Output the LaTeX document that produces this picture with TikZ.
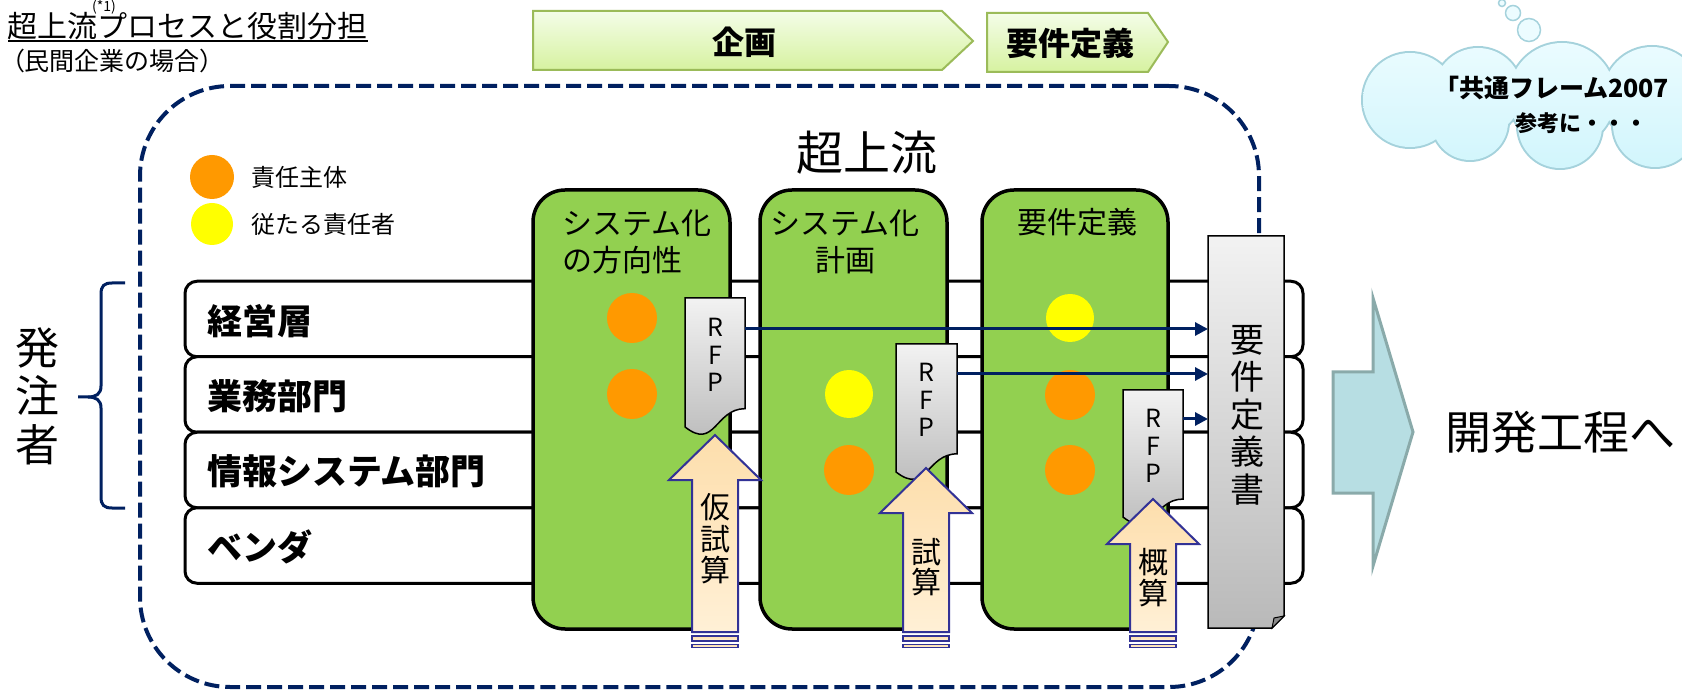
\documentclass[tikz,border=0pt]{standalone}
\usepackage{fontspec}
\setmainfont{Noto Sans CJK JP}
\usetikzlibrary{arrows.meta}
\definecolor{navy}{RGB}{0,32,96}
\definecolor{colgreen}{RGB}{146,208,80}
\definecolor{dotorange}{RGB}{255,153,0}
\definecolor{dotyellow}{RGB}{255,255,0}
\definecolor{peach}{RGB}{253,222,172}
\definecolor{peachlight}{RGB}{255,240,214}
\definecolor{arrblue}{RGB}{50,50,150}
\definecolor{bigfill}{RGB}{183,222,227}
\definecolor{bigline}{RGB}{138,170,170}
\definecolor{phaseline}{RGB}{155,187,89}
\definecolor{phasetop}{RGB}{244,253,232}
\definecolor{phasebot}{RGB}{214,242,160}
\definecolor{cloudtop}{RGB}{236,252,255}
\definecolor{cloudbot}{RGB}{208,245,252}
\definecolor{cloudline}{RGB}{165,210,220}
\definecolor{doctop}{RGB}{242,242,242}
\definecolor{docbot}{RGB}{185,185,185}
\newcommand\setfs[2]{\fontsize{#1pt}{#2pt}\selectfont}
\newcommand\uparr[3]{%
  \path[uparrow] (#1,#2) -- (#1+46,#3) -- (#1+23,#3) -- (#1+23,632) -- (#1-23,632) -- (#1-23,#3) -- (#1-46,#3) -- cycle;
  \path[uparrow] (#1-23,636) rectangle (#1+23,641);
  \path[uparrow, line width=1.5pt] (#1-23,644.5) rectangle (#1+23,647.5);}
\newcommand\rfpdoc[4]{%
  \path[docshape] (#1,#2) -- (#1+#3,#2) -- (#1+#3,#2+0.802*#4) .. controls (#1+0.5*#3,#2+0.802*#4) and (#1+0.5*#3,#2+1.107*#4) .. (#1,#2+0.934*#4) -- cycle;}
\newcommand\cloudlobes{(1410,100) circle (47pt) (1478,92) circle (44pt) (1470,122) circle (38pt) (1562,96) circle (53pt) (1560,126) circle (42pt) (1652,96) circle (49pt) (1655,125) circle (42pt)}
\tikzset{
  txt/.style={inner sep=0pt, outer sep=0pt},
  rowbox/.style={draw=black, line width=3pt, fill=white, rounded corners=12pt, minimum width=1118pt, minimum height=75.5pt, inner sep=0pt},
  colbox/.style={draw=black, line width=3.5pt, fill=colgreen, rounded corners=32pt, minimum height=439pt, inner sep=0pt},
  dot/.style={circle, inner sep=0pt, minimum size=50pt},
  docshape/.style={draw=black, line width=1.5pt, top color=doctop, bottom color=docbot},
  uparrow/.style={draw=arrblue, line width=2pt, top color=peach, bottom color=peachlight},
  flow/.style={draw=navy, line width=3pt, -{Triangle[length=13pt,width=13pt]}},
  phase/.style={draw=phaseline, line width=2pt, top color=phasetop, bottom color=phasebot},
  rowlabel/.style={txt, anchor=west, font=\bfseries\setfs{35}{40}},
  coltitle/.style={txt, font=\setfs{30}{37}},
  vstack/.style={txt, align=center},
  rfptext/.style={vstack, font=\setfs{25}{27.5}},
  bubble/.style={circle, draw=cloudline, line width=1.5pt, fill=cloudtop, inner sep=0pt}
}
\begin{document}
\begin{tikzpicture}[x=1pt,y=-1pt]
\useasboundingbox (0,0) rectangle (1682,692);
% title
\node[txt, anchor=west, font=\setfs{30}{36}] (title) at (8,26) {超上流プロセスと役割分担};
\coordinate (ul) at (0,41);
\draw[line width=2pt] (title.west |- ul) -- (title.east |- ul);
\node[txt, font=\setfs{14}{16}] (note) at (104,7) {(*1)};
\node[txt, anchor=west, font=\setfs{25}{30}] (sub) at (0,61) {（民間企業の場合）};
% phase arrows
\path[phase] (533,11) -- (942,11) -- (973,41) -- (942,70) -- (533,70) -- cycle;
\node[txt, font=\bfseries\setfs{32}{36}] (plan) at (744,42) {企画};
\path[phase] (987,13) -- (1148,13) -- (1168,42) -- (1148,72) -- (987,72) -- cycle;
\node[txt, font=\bfseries\setfs{32}{36}] (reqphase) at (1070,43) {要件定義};
% cloud
\draw[cloudline, line width=4pt] \cloudlobes;
\begin{scope}
  \clip \cloudlobes;
  \shade[top color=cloudtop, bottom color=cloudbot] (1355,35) rectangle (1710,175);
\end{scope}
\node[bubble, minimum size=23pt] (b3) at (1529,30) {};
\node[bubble, minimum size=15pt] (b2) at (1513,13) {};
\node[bubble, minimum size=7pt] (b1) at (1502,3) {};
\node[txt, anchor=west, font=\bfseries\setfs{25}{30}] (cl1) at (1434,88) {「共通フレーム2007};
\node[txt, font=\bfseries\setfs{22}{26}] (cl2) at (1581,123) {参考に・・・};
% dashed frame
\node[draw=navy, line width=4pt, dash pattern=on 15pt off 6pt, rounded corners=90pt, minimum width=1119pt, minimum height=601pt, inner sep=0pt] (frame) at (699.5,386.5) {};
\node[txt, font=\setfs{47}{52}] (super) at (867,153) {超上流};
% legend
\node[dot, fill=dotorange, minimum size=44pt] (lg1) at (212,177) {};
\node[dot, fill=dotyellow, minimum size=42pt] (lg2) at (212,224) {};
\node[txt, anchor=west, font=\setfs{24}{28}] (lgt1) at (251,177) {責任主体};
\node[txt, anchor=west, font=\setfs{24}{28}] (lgt2) at (251,224) {従たる責任者};
% rows
\node[rowbox] (r1) at (744,319) {};
\node[rowbox] (r2) at (744,394.5) {};
\node[rowbox] (r3) at (744,470) {};
\node[rowbox] (r4) at (744,545.5) {};
\node[rowlabel] (l1) at (207,321) {経営層};
\node[rowlabel] (l2) at (207,396) {業務部門};
\node[rowlabel] (l3) at (207,471) {情報システム部門};
\node[rowlabel] (l4) at (207,547) {ベンダ};
% brace and orderer
\draw[navy, line width=3pt] (125,283) -- (112,283) .. controls (104,283) and (101,286) .. (101,294) -- (101,386) .. controls (101,394) and (96,397) .. (88,397) -- (78,397);
\draw[navy, line width=3pt] (88,397) .. controls (96,397) and (101,400) .. (101,408) -- (101,497) .. controls (101,505) and (104,508) .. (112,508) -- (125,508);
\node[vstack, font=\setfs{44}{48.5}] (orderer) at (37,396) {発\\注\\者};
% columns
\node[colbox, minimum width=197pt] (c1) at (631.5,409.5) {};
\node[colbox, minimum width=187pt] (c2) at (853.5,409.5) {};
\node[colbox, minimum width=186pt] (c3) at (1075,409.5) {};
\node[coltitle, align=left] (t1) at (637,241.5) {システム化\\の方向性};
\node[coltitle, align=center] (t2) at (845,241.5) {システム化\\計画};
\node[coltitle] (t3) at (1077,222) {要件定義};
% dots
\node[dot, fill=dotorange] (d11) at (632,318) {};
\node[dot, fill=dotorange] (d12) at (632,394) {};
\node[dot, fill=dotyellow, minimum size=48pt] (d22) at (849,394) {};
\node[dot, fill=dotorange] (d23) at (849,470) {};
\node[dot, fill=dotyellow, minimum size=48pt] (d31) at (1070,318) {};
\node[dot, fill=dotorange] (d32) at (1070,395) {};
\node[dot, fill=dotorange] (d33) at (1070,470) {};
% RFP documents
\rfpdoc{685}{298}{60}{138}
\node[rfptext] (rfp1) at (715,355) {R\\F\\P};
\rfpdoc{896}{344}{61}{137}
\node[rfptext] (rfp2) at (926,400) {R\\F\\P};
\rfpdoc{1123}{390}{60}{136}
\node[rfptext] (rfp3) at (1153,446) {R\\F\\P};
\coordinate (o1) at (745,329);
\coordinate (o2) at (957,374);
\coordinate (o3) at (1183,419);
% requirements document
\path[docshape] (1208,236) -- (1284,236) -- (1284,616) -- (1272,628) -- (1208,628) -- cycle;
\path[draw=black, line width=1pt, fill=docbot!75!black] (1272,628) -- (1274,618) -- (1284,616) -- cycle;
\node[txt, minimum width=76pt, minimum height=392pt] (reqdoc) at (1246,432) {};
\node[vstack, font=\setfs{34}{37.5}] (reqtext) at (1247,415) {要\\件\\定\\義\\書};
\draw[flow] (o1) -- (o1 -| reqdoc.west);
\draw[flow] (o2) -- (o2 -| reqdoc.west);
\draw[flow] (o3) -- (o3 -| reqdoc.west);
% estimate arrows
\uparr{715}{435}{480}
\node[vstack, font=\setfs{30}{31.5}] (est1) at (715,539) {仮\\試\\算};
\uparr{926}{468}{513}
\node[vstack, font=\setfs{30}{30}] (est2) at (926,567) {試\\算};
\uparr{1153}{499}{544}
\node[vstack, font=\setfs{30}{31}] (est3) at (1153,577.5) {概\\算};
% to development
\path[draw=bigline, line width=3pt, fill=bigfill] (1333,372) -- (1373,372) -- (1373,298) -- (1413,432) -- (1373,566) -- (1373,493) -- (1333,493) -- cycle;
\node[txt, anchor=west, font=\setfs{46}{50}] (dev) at (1445,432) {開発工程へ};
\end{tikzpicture}
\end{document}
